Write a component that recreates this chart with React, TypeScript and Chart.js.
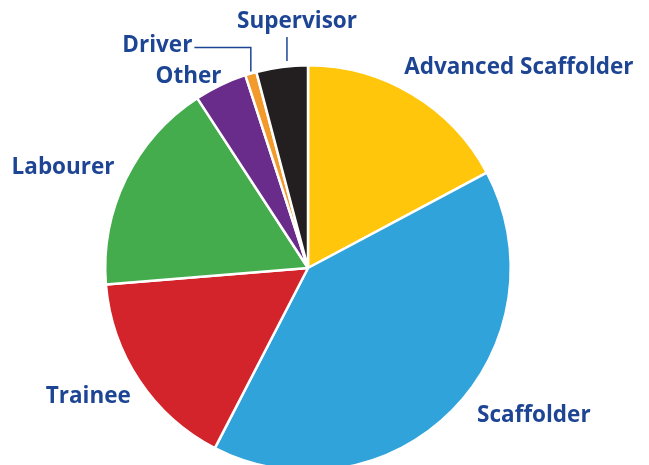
import React, { useEffect, useRef } from "react";
import { Chart, registerables } from "chart.js";

Chart.register(...registerables);

const categories = ["Advanced Scaffolder", "Scaffolder", "Trainee", "Labourer", "Other", "Driver", "Supervisor"];
const values = [17.2, 40.4, 16.1, 17.1, 4.2, 0.9, 4.1];
const colors = ["#FFC60B", "#2FA3DA", "#D3232B", "#44AC4C", "#6A2C8A", "#F39A2C", "#231F20"];

// label placement relative to pie center, in units of the radius
const labelOffsets: [number, number][] = [
  [1.04, -0.99],
  [1.114, 0.726],
  [-1.084, 0.632],
  [-1.208, -0.497],
  [-0.589, -0.943],
  [-0.743, -1.097],
  [-0.054, -1.213],
];
const leaderLabels = ["Driver", "Supervisor"];

const LABEL_COLOR = "#1D4594";
const FONT = "bold 22.5px 'Open Sans', 'DejaVu Sans', sans-serif";

const labelPlugin = {
  id: "pieLabels",
  afterDatasetsDraw(chart: any) {
    const ctx = chart.ctx;
    const meta = chart.getDatasetMeta(0);
    ctx.save();
    ctx.font = FONT;
    ctx.fillStyle = LABEL_COLOR;
    ctx.textAlign = "center";
    ctx.textBaseline = "middle";
    meta.data.forEach((arc: any, i: number) => {
      const { x, y, outerRadius, startAngle, endAngle } = arc.getProps(["x", "y", "outerRadius", "startAngle", "endAngle"], true);
      const [fx, fy] = labelOffsets[i];
      const lx = x + fx * outerRadius;
      const ly = y + fy * outerRadius;
      const label = categories[i];
      ctx.fillText(label, lx, ly);
      if (leaderLabels.includes(label)) {
        const mid = (startAngle + endAngle) / 2;
        const ax = x + Math.cos(mid) * outerRadius;
        const ay = y + Math.sin(mid) * outerRadius;
        ctx.strokeStyle = LABEL_COLOR;
        ctx.lineWidth = 1.5;
        ctx.beginPath();
        if (label === "Driver") {
          const w = ctx.measureText(label).width;
          const sx = lx + w / 2 + 2;
          ctx.moveTo(sx, ly + 2);
          ctx.lineTo(ax, ly + 2);
          ctx.lineTo(ax, ay - 2);
        } else {
          ctx.moveTo(ax + 5, ly + 15);
          ctx.lineTo(ax + 5, ay - 6);
        }
        ctx.stroke();
      }
    });
    ctx.restore();
  },
};

export default function App() {
  const ref = useRef<HTMLCanvasElement | null>(null);
  useEffect(() => {
    if (!ref.current) return;
    const chart = new Chart(ref.current, {
      type: "pie",
      data: {
        labels: categories,
        datasets: [
          {
            data: values,
            backgroundColor: colors,
            borderColor: "#ffffff",
            borderWidth: 2.5,
          },
        ],
      },
      options: {
        responsive: false,
        animation: false,
        layout: { padding: { left: 104, right: 137, top: 64, bottom: 8 } },
        plugins: {
          legend: { display: false },
          tooltip: { enabled: false },
        },
      },
      plugins: [labelPlugin],
    });
    return () => chart.destroy();
  }, []);
  return (
    <div style={{ position: "fixed", left: 0, top: 0, width: 649, height: 465, overflow: "hidden", background: "#fff" }}>
      <canvas ref={ref} width={649} height={480} style={{ width: 649, height: 480, display: "block" }} />
    </div>
  );
}
